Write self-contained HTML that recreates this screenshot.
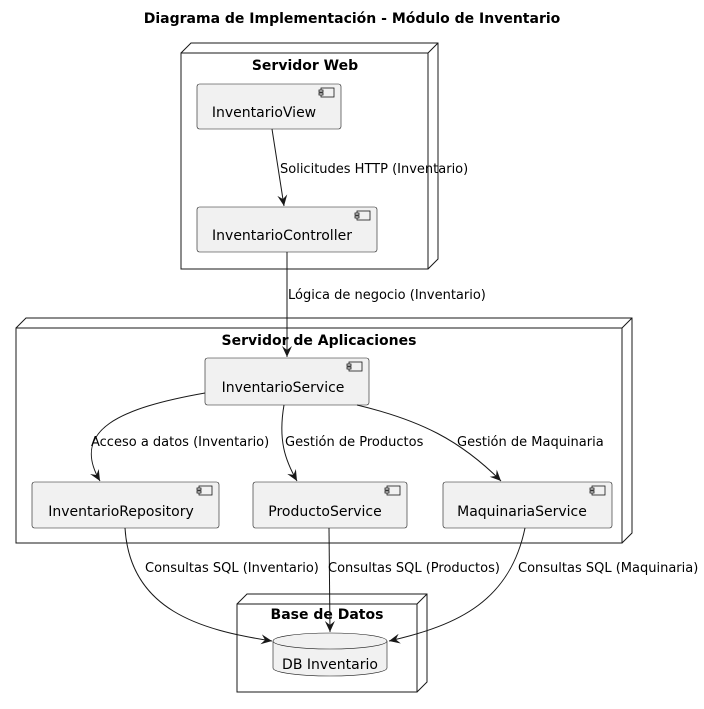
<!DOCTYPE html>
<html><head><meta charset="utf-8"><style>body{margin:0;background:#fff}svg{display:block}text{font-family:"DejaVu Sans","Liberation Sans",sans-serif}</style></head>
<body>
<svg width="704" height="709" viewBox="0 0 704 709" xmlns="http://www.w3.org/2000/svg">
<defs>
<marker id="a" viewBox="0 0 12 12" refX="11" refY="6" markerWidth="12" markerHeight="12" orient="auto" markerUnits="userSpaceOnUse"><path d="M0,1 L11,6 L0,11 L4,6 Z" fill="#181818"/></marker>
<g id="ic"><rect x="0" y="0" width="13" height="9" fill="#f1f1f1" stroke="#181818" stroke-width="0.8"/><rect x="-2" y="2" width="4" height="2" fill="#f1f1f1" stroke="#181818" stroke-width="0.8"/><rect x="-2" y="5" width="4" height="2" fill="#f1f1f1" stroke="#181818" stroke-width="0.8"/></g>
</defs>
<text x="352" y="23" text-anchor="middle" font-size="14" font-weight="bold">Diagrama de Implementación - Módulo de Inventario</text>
<g fill="#fff" stroke="#181818" stroke-width="1">
<path d="M181,53 L191,43 L438,43 L438,259 L428,269 M428,53 L438,43"/>
<rect x="181" y="53" width="247" height="216"/>
<path d="M16,328 L26,318 L632,318 L632,533 L622,543 M622,328 L632,318"/>
<rect x="16" y="328" width="606" height="215"/>
<path d="M237,604 L247,594 L427,594 L427,682 L417,692 M417,604 L427,594"/>
<rect x="237" y="604" width="180" height="88"/>
</g>
<g font-size="14" font-weight="bold" text-anchor="middle">
<text x="305" y="70">Servidor Web</text>
<text x="319" y="345">Servidor de Aplicaciones</text>
<text x="327" y="619">Base de Datos</text>
</g>
<g fill="#f1f1f1" stroke="#181818" stroke-width="0.6">
<rect x="197" y="84" width="144" height="45" rx="2.5"/>
<rect x="197" y="207" width="180" height="45" rx="2.5"/>
<rect x="205" y="358" width="164" height="47" rx="2.5"/>
<rect x="32" y="482" width="187" height="46" rx="2.5"/>
<rect x="253" y="482" width="154" height="46" rx="2.5"/>
<rect x="443" y="482" width="169" height="46" rx="2.5"/>
<path d="M273,641 L273,668 A57,8 0 0 0 387,668 L387,641"/>
<ellipse cx="330" cy="641" rx="57" ry="8"/>
</g>
<use href="#ic" x="321" y="88"/><use href="#ic" x="357" y="211"/><use href="#ic" x="349" y="362"/>
<use href="#ic" x="199" y="486"/><use href="#ic" x="387" y="486"/><use href="#ic" x="592" y="486"/>
<g font-size="14" text-anchor="middle">
<text x="264" y="117">InventarioView</text>
<text x="282" y="240">InventarioController</text>
<text x="283" y="392">InventarioService</text>
<text x="121" y="516">InventarioRepository</text>
<text x="325" y="516">ProductoService</text>
<text x="522" y="516">MaquinariaService</text>
<text x="330" y="669">DB Inventario</text>
</g>
<g fill="none" stroke="#181818" stroke-width="1" marker-end="url(#a)">
<path d="M272,129 L284,206"/>
<path d="M287,252 L287,357"/>
<path d="M205,393 C120,408 70,430 100,481"/>
<path d="M284,405 C278,440 285,460 297,481"/>
<path d="M357,405 C420,420 460,440 501,481"/>
<path d="M125,528 C130,610 200,630 272,641"/>
<path d="M329,528 L330,632"/>
<path d="M525,528 C510,600 460,625 389,641"/>
</g>
<g font-size="13">
<text x="280" y="173">Solicitudes HTTP (Inventario)</text>
<text x="288" y="299">Lógica de negocio (Inventario)</text>
<text x="91" y="446">Acceso a datos (Inventario)</text>
<text x="285" y="446">Gestión de Productos</text>
<text x="457" y="446">Gestión de Maquinaria</text>
<text x="145" y="572">Consultas SQL (Inventario)</text>
<text x="328" y="572">Consultas SQL (Productos)</text>
<text x="518" y="572">Consultas SQL (Maquinaria)</text>
</g>
</svg>
</body></html>
